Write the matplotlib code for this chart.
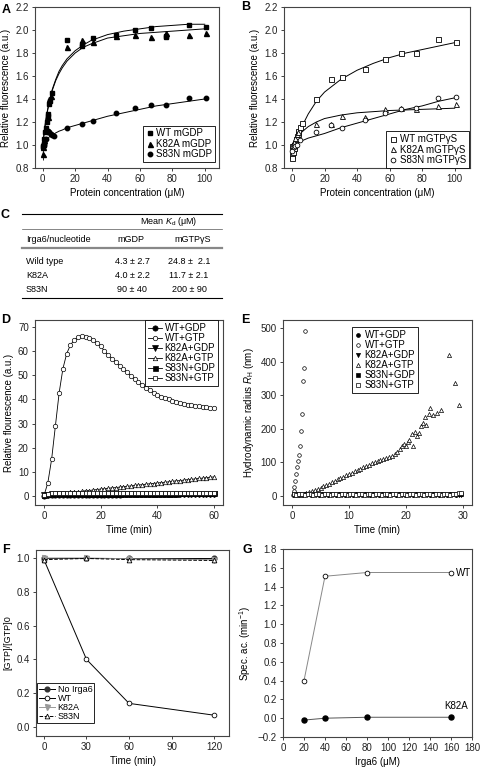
#!/usr/bin/env python3
"""Irga6 nucleotide binding / assembly / hydrolysis figure (panels A-G)."""

import matplotlib
matplotlib.use("Agg")
import matplotlib.pyplot as plt
import numpy as np

plt.rcParams["font.family"] = ["Liberation Sans", "DejaVu Sans"]
plt.rcParams["font.size"] = 7
plt.rcParams["mathtext.fontset"] = "custom"
plt.rcParams["mathtext.rm"] = "Liberation Sans"
plt.rcParams["mathtext.it"] = "Liberation Sans:italic"
plt.rcParams["mathtext.bf"] = "Liberation Sans:bold"

W, H = 483, 767
FS = 7

# ---- A: mGDP binding ----
a_wt_x = [0, 0.3, 0.6, 1, 1.5, 2, 2.5, 3, 3.5, 4, 4.5, 5.5, 15, 24, 24, 31, 45, 57, 67, 76, 76, 90, 101]
a_wt_y = [0.99, 0.98, 1.0, 1.05, 1.11, 1.15, 1.2, 1.25, 1.27, 1.36, 1.38, 1.45, 1.91, 1.88, 1.86,
          1.93, 1.96, 2.00, 2.02, 1.95, 1.94, 2.04, 2.03]
a_k82a_x = [0, 0.3, 1, 2, 3, 4, 5, 15, 24, 31, 45, 57, 67, 76, 90, 101]
a_k82a_y = [0.98, 0.92, 1.04, 1.14, 1.24, 1.40, 1.43, 1.85, 1.91, 1.90, 1.95, 1.96, 1.94, 1.97, 1.96, 1.97]
a_k82a_err = [0, 0.05, 0, 0, 0, 0, 0, 0, 0, 0, 0, 0, 0, 0, 0, 0]
a_s83n_x = [0.5, 1, 2, 3, 3.5, 4, 5, 6, 7, 15, 24, 31, 45, 57, 67, 76, 90, 101]
a_s83n_y = [1.0, 1.02, 1.05, 1.11, 1.12, 1.11, 1.10, 1.09, 1.08, 1.15, 1.18, 1.21, 1.28, 1.32, 1.35, 1.35,
            1.41, 1.41]
a_fit_x = [0, 1, 2, 3, 4, 5, 6, 8, 10, 12, 15, 20, 25, 30, 40, 50, 60, 70, 80, 90, 100]
a_fit_wt = [1.0, 1.13, 1.23, 1.31, 1.38, 1.44, 1.49, 1.57, 1.64, 1.69, 1.75, 1.82, 1.87, 1.91, 1.96,
            1.99, 2.01, 2.03, 2.04, 2.05, 2.05]
a_fit_k82a = [1.0, 1.12, 1.22, 1.30, 1.37, 1.43, 1.48, 1.56, 1.62, 1.67, 1.73, 1.80, 1.85, 1.88, 1.93,
              1.95, 1.97, 1.98, 1.99, 2.00, 2.01]
a_fit_s83n = [1.0, 1.02, 1.04, 1.055, 1.07, 1.08, 1.09, 1.105, 1.12, 1.13, 1.15, 1.17, 1.19, 1.21, 1.25,
              1.28, 1.31, 1.34, 1.36, 1.38, 1.40]

# ---- B: mGTPgS binding ----
b_wt_x = [0, 0, 0.3, 0.6, 1, 1.5, 2, 2.5, 3, 3.5, 4, 5, 6, 15, 24, 31, 45, 57, 67, 76, 90, 101]
b_wt_y = [0.99, 0.91, 0.89, 0.94, 0.97, 1.0, 1.02, 1.05, 1.08, 1.10, 1.12, 1.16, 1.19, 1.40, 1.57, 1.59,
          1.66, 1.75, 1.80, 1.80, 1.92, 1.90]
b_k82a_x = [0, 1, 2, 3, 4, 15, 24, 31, 45, 57, 67, 76, 90, 101]
b_k82a_y = [1.0, 1.03, 1.06, 1.10, 1.11, 1.18, 1.18, 1.25, 1.24, 1.31, 1.32, 1.31, 1.34, 1.36]
b_s83n_x = [0, 1, 2, 3, 5, 15, 24, 31, 45, 57, 67, 76, 90, 101]
b_s83n_y = [0.95, 0.98, 0.99, 1.0, 1.04, 1.11, 1.17, 1.15, 1.22, 1.28, 1.31, 1.32, 1.41, 1.42]
b_fit_x = [0, 2, 5, 10, 15, 20, 30, 40, 50, 60, 70, 80, 90, 100]
b_fit_wt = [1.0, 1.05, 1.13, 1.27, 1.38, 1.46, 1.57, 1.65, 1.71, 1.76, 1.80, 1.83, 1.86, 1.89]
b_fit_k82a = [1.0, 1.05, 1.10, 1.16, 1.20, 1.23, 1.26, 1.28, 1.29, 1.30, 1.305, 1.31, 1.315, 1.32]
b_fit_s83n = [1.0, 1.015, 1.03, 1.06, 1.08, 1.10, 1.15, 1.19, 1.23, 1.27, 1.31, 1.34, 1.38, 1.41]

# ---- C: Kd table ----
c_rows = ["Wild type", "K82A", "S83N"]
c_mgdp = ["4.3 \u00b1 2.7", "4.0 \u00b1 2.2", "90 \u00b1 40"]
c_mgtp = ["24.8 \u00b1  2.1", "11.7 \u00b1 2.1", "200 \u00b1 90"]

# ---- D: fluorescence time course ----
d_time = np.linspace(0, 60, 46)
d_wt_gtp = [0.3, 5.5, 15.2, 29, 42.8, 52.8, 59, 62.6, 64.6, 65.7,
            66.1, 66.0, 65.4, 64.5, 63.3, 62.0, 60.0, 58.4, 56.9, 55.5,
            54.0, 52.6, 51.2, 49.8, 48.5, 47.2, 46.0, 44.9, 43.8, 42.8,
            41.9, 41.2, 40.6, 40.0, 39.5, 39.0, 38.6, 38.2, 37.9, 37.6,
            37.3, 37.1, 36.9, 36.7, 36.5, 36.3]
d_k82a_gtp = [0.3, 0.5, 0.6, 0.8, 1.0, 1.2, 1.3, 1.5, 1.7, 1.8,
              2.0, 2.2, 2.3, 2.5, 2.7, 2.9, 3.0, 3.2, 3.4, 3.5,
              3.7, 3.9, 4.0, 4.2, 4.4, 4.6, 4.7, 4.9, 5.1, 5.2,
              5.4, 5.6, 5.7, 5.9, 6.1, 6.3, 6.4, 6.6, 6.8, 6.9,
              7.1, 7.3, 7.4, 7.6, 7.8, 7.9]
d_wt_gdp = [0.2, 0.3, 0.3, 0.4, 0.4, 0.4, 0.5, 0.5, 0.5, 0.5,
            0.5, 0.5, 0.6, 0.6, 0.6, 0.6, 0.6, 0.6, 0.6, 0.6,
            0.6, 0.7, 0.7, 0.7, 0.7, 0.7, 0.7, 0.7, 0.7, 0.7,
            0.7, 0.7, 0.7, 0.8, 0.8, 0.8, 0.8, 0.8, 0.8, 0.8,
            0.8, 0.8, 0.8, 0.8, 0.8, 0.8]
d_k82a_gdp = [0.4, 0.6, 0.7, 0.8, 0.9, 0.9, 0.9, 0.9, 0.9, 0.9,
              0.9, 0.9, 0.9, 0.9, 0.9, 0.9, 0.9, 0.9, 0.9, 0.9,
              0.9, 0.9, 0.9, 0.9, 0.9, 0.9, 1.0, 1.0, 1.0, 1.0,
              1.0, 1.0, 1.0, 1.0, 1.0, 1.0, 1.0, 1.0, 1.0, 1.0,
              1.0, 1.0, 1.0, 1.0, 1.0, 1.0]
d_s83n_gdp = [0.5, 0.8, 1.0, 1.1, 1.2, 1.2, 1.2, 1.1, 1.1, 1.1,
              1.1, 1.0, 1.0, 1.0, 1.0, 1.0, 1.0, 1.0, 1.0, 1.0,
              1.0, 1.0, 1.0, 1.0, 1.0, 1.0, 1.0, 1.0, 1.0, 1.0,
              1.0, 1.0, 1.0, 1.0, 1.0, 1.0, 1.1, 1.1, 1.1, 1.1,
              1.1, 1.1, 1.1, 1.1, 1.1, 1.1]
d_s83n_gtp = [0.6, 0.9, 1.1, 1.2, 1.3, 1.3, 1.2, 1.2, 1.1, 1.1,
              1.1, 1.1, 1.1, 1.1, 1.1, 1.1, 1.1, 1.1, 1.1, 1.1,
              1.1, 1.1, 1.1, 1.1, 1.1, 1.1, 1.1, 1.1, 1.1, 1.1,
              1.1, 1.1, 1.1, 1.1, 1.1, 1.1, 1.2, 1.2, 1.2, 1.2,
              1.2, 1.2, 1.2, 1.2, 1.2, 1.2]

# ---- E: DLS hydrodynamic radius ----
e_wt_gtp_t = [0.2, 0.3, 0.4, 0.55, 0.7, 0.85, 1.0, 1.15, 1.3, 1.5, 1.7, 1.9, 2.1, 2.3]
e_wt_gtp = [3, 15, 28, 45, 65, 85, 103, 122, 150, 194, 244, 343, 380, 492]
e_k82a_gtp_t = [0.5, 1.0, 1.5, 2.0, 2.5, 3.0, 3.5, 4.0, 4.5, 5.0, 5.5, 6.0, 6.5, 7.0, 7.5, 8.0, 8.5,
                9.0, 9.5, 10.0, 10.5, 11.0, 11.5, 12.0, 12.5, 13.0, 13.5, 14.0, 14.5, 15.0, 15.5,
                16.0, 16.5, 17.0, 17.5, 18.0, 18.5, 19.0, 19.3, 19.6, 20.0, 20.3, 20.6, 21.0, 21.3,
                21.6, 22.0, 22.3, 22.6, 23.0, 23.3, 23.6, 24.0, 24.3, 24.7, 25.4, 26.1, 27.5, 28.6, 29.4]
e_k82a_gtp = [2, 3, 4, 6, 8, 11, 14, 18, 21, 25, 29, 33, 37, 41, 45, 49, 53, 57, 61, 65,
              69, 73, 77, 81, 85, 89, 93, 97, 100, 104, 107, 110, 113, 116, 118, 125, 132, 140,
              148, 155, 150, 162, 167, 185, 148, 190, 178, 187, 207, 216, 236, 211, 245, 261,
              241, 247, 256, 419, 337, 271]
e_time = np.arange(0.25, 30, 0.5)
e_wt_gdp = [4, 5, 5, 4, 5, 6, 4, 5, 5, 4, 5, 5, 4, 6, 5, 4, 5, 5, 4, 5,
            5, 4, 5, 6, 4, 5, 5, 4, 5, 5, 4, 5, 5, 4, 6, 5, 4, 5, 5, 4,
            5, 5, 4, 5, 6, 4, 5, 5, 4, 5, 5, 4, 5, 5, 4, 6, 5, 4, 5, 5]
e_k82a_gdp = [3, 4, 3, 4, 3, 5, 3, 4, 3, 4, 3, 4, 3, 4, 5, 3, 4, 3, 4, 3,
              4, 3, 4, 3, 5, 3, 4, 3, 4, 3, 4, 3, 4, 3, 4, 5, 3, 4, 3, 4,
              3, 4, 3, 4, 3, 4, 5, 3, 4, 3, 4, 3, 4, 3, 4, 3, 5, 4, 3, 4]
e_s83n_gdp = [6, 5, 6, 7, 5, 6, 5, 6, 7, 5, 6, 5, 6, 5, 7, 6, 5, 6, 5, 6,
              7, 5, 6, 5, 6, 5, 7, 6, 5, 6, 5, 6, 7, 5, 6, 5, 6, 5, 7, 6,
              5, 6, 5, 6, 7, 5, 6, 5, 6, 5, 7, 6, 5, 6, 5, 6, 7, 5, 6, 6]
e_s83n_gtp = [5, 4, 6, 5, 4, 6, 5, 4, 6, 5, 4, 6, 5, 4, 6, 5, 4, 6, 5, 4,
              6, 5, 4, 6, 5, 4, 6, 5, 4, 6, 5, 4, 6, 5, 4, 6, 5, 4, 6, 5,
              4, 6, 5, 4, 6, 5, 4, 6, 5, 4, 6, 5, 4, 6, 5, 4, 6, 5, 9, 8]

# ---- F: GTP hydrolysis ----
f_time = [0, 30, 60, 120]
f_no_irga6 = [1.0, 1.0, 1.0, 1.0]
f_wt = [0.99, 0.40, 0.14, 0.07]
f_k82a = [1.0, 1.0, 0.995, 0.99]
f_s83n = [0.99, 0.997, 0.99, 0.985]

# ---- G: specific activity ----
g_conc = [20, 40, 80, 160]
g_wt = [0.40, 1.51, 1.55, 1.55]
g_k82a = [-0.02, 0.0, 0.01, 0.01]

UM = "(\u03bcM)"


def add_ax(fig, x0, y0, x1, y1):
    return fig.add_axes([x0 / W, 1 - y1 / H, (x1 - x0) / W, (y1 - y0) / H])


def style(ax):
    for sp in ax.spines.values():
        sp.set_color("#444444")
        sp.set_linewidth(0.8)
    ax.tick_params(direction="out", length=2.5, width=0.6, labelsize=FS, pad=2,
                   colors="#222222", top=False, right=False)


def legend(ax, fs=FS, borderpad=0.3, **kw):
    leg = ax.legend(fontsize=fs, fancybox=False, framealpha=1, edgecolor="black",
                    borderpad=borderpad, handletextpad=0.3, borderaxespad=0, numpoints=1, **kw)
    leg.get_frame().set_linewidth(0.6)
    return leg


def main():
    fig = plt.figure(figsize=(W / 100, H / 100), dpi=100)

    # A
    ax = add_ax(fig, 35, 7, 219, 168)
    style(ax)
    for fy in (a_fit_wt, a_fit_k82a, a_fit_s83n):
        ax.plot(a_fit_x, fy, color="black", lw=0.7)
    ax.errorbar(a_k82a_x, a_k82a_y, yerr=a_k82a_err, fmt="none", ecolor="black", elinewidth=0.6)
    ax.plot(a_wt_x, a_wt_y, "s", color="black", ms=3.4, ls="none", label="WT mGDP")
    ax.plot(a_k82a_x, a_k82a_y, "^", color="black", ms=3.6, ls="none", label="K82A mGDP")
    ax.plot(a_s83n_x, a_s83n_y, "o", color="black", ms=3.2, ls="none", label="S83N mGDP")
    ax.set_xlim(-4.8, 108.8)
    ax.set_ylim(0.8, 2.2)
    ax.set_xticks(range(0, 101, 20))
    ax.set_yticks(np.arange(0.8, 2.21, 0.2))
    ax.yaxis.set_major_formatter(matplotlib.ticker.FormatStrFormatter("%.1f"))
    ax.set_xlabel(f"Protein concentration {UM}", labelpad=3)
    ax.set_ylabel("Relative fluorescence (a.u.)", labelpad=3)
    legend(ax, loc="lower right", bbox_to_anchor=(0.98, 0.035), handlelength=0.8, labelspacing=0.05)

    # B
    ax = add_ax(fig, 284, 7, 470, 168)
    style(ax)
    for fy in (b_fit_wt, b_fit_k82a, b_fit_s83n):
        ax.plot(b_fit_x, fy, color="black", lw=0.7)
    mk = dict(mfc="white", mec="black", mew=0.6, ls="none")
    ax.plot(b_wt_x, b_wt_y, "s", ms=3.6, label="WT mGTP\u03b3S", **mk)
    ax.plot(b_k82a_x, b_k82a_y, "^", ms=3.6, label="K82A mGTP\u03b3S", **mk)
    ax.plot(b_s83n_x, b_s83n_y, "o", ms=3.4, label="S83N mGTP\u03b3S", **mk)
    ax.set_xlim(-4.9, 109.4)
    ax.set_ylim(0.8, 2.2)
    ax.set_xticks(range(0, 101, 20))
    ax.set_yticks(np.arange(0.8, 2.21, 0.2))
    ax.yaxis.set_major_formatter(matplotlib.ticker.FormatStrFormatter("%.1f"))
    ax.set_xlabel(f"Protein concentration {UM}", labelpad=3)
    ax.set_ylabel("Relative fluorescence (a.u.)", labelpad=3)
    legend(ax, loc="lower right", bbox_to_anchor=(0.995, 0.0), handlelength=0.8, labelspacing=0.05)

    # D
    ax = add_ax(fig, 35, 320, 223, 505)
    style(ax)
    ln = dict(color="black", lw=0.6, mec="black", mew=0.5)
    ax.plot(d_time, d_wt_gdp, "-o", mfc="black", ms=3.8, label="WT+GDP", **ln)
    ax.plot(d_time, d_wt_gtp, "-o", mfc="white", ms=3.2, label="WT+GTP", **ln)
    ax.plot(d_time, d_k82a_gdp, "-v", mfc="black", ms=3.8, label="K82A+GDP", **ln)
    ax.plot(d_time, d_k82a_gtp, "-^", mfc="white", ms=3.2, label="K82A+GTP", **ln)
    ax.plot(d_time, d_s83n_gdp, "-s", mfc="black", ms=3.6, label="S83N+GDP", **ln)
    ax.plot(d_time, d_s83n_gtp, "-s", mfc="white", ms=3.2, label="S83N+GTP", **ln)
    ax.set_xlim(-3.2, 63.2)
    ax.set_ylim(-3.7, 72.9)
    ax.set_xticks([0, 20, 40, 60])
    ax.set_yticks(range(0, 71, 10))
    ax.set_xlabel("Time (min)", labelpad=3)
    ax.set_ylabel("Relative flourescence (a.u.)", labelpad=3)
    legend(ax, loc="upper right", bbox_to_anchor=(0.975, 1.0), handlelength=1.4, labelspacing=0.0)

    # E
    ax = add_ax(fig, 283, 320, 472, 505)
    style(ax)
    sc = dict(color="black", ls="none", mec="black", mew=0.5)
    ax.plot(e_time, e_wt_gdp, "o", ms=2.8, mfc="black", label="WT+GDP", **sc)
    ax.plot(e_wt_gtp_t, e_wt_gtp, "o", ms=2.6, mfc="white", label="WT+GTP", **sc)
    ax.plot(e_time, e_k82a_gdp, "v", ms=3.0, mfc="black", label="K82A+GDP", **sc)
    ax.plot(e_k82a_gtp_t, e_k82a_gtp, "^", ms=3.0, mfc="white", label="K82A+GTP", **sc)
    ax.plot(e_time, e_s83n_gdp, "s", ms=2.8, mfc="black", label="S83N+GDP", **sc)
    ax.plot(e_time, e_s83n_gtp, "s", ms=2.6, mfc="white", label="S83N+GTP", **sc)
    ax.set_xlim(-1.6, 31.6)
    ax.set_ylim(-27, 524)
    ax.set_xticks([0, 10, 20, 30])
    ax.set_yticks(range(0, 501, 100))
    ax.set_xlabel("Time (min)", labelpad=3)
    ax.set_ylabel(r"Hydrodynamic radius $\mathit{R}_\mathregular{H}$ (nm)", labelpad=3)
    legend(ax, loc="upper center", bbox_to_anchor=(0.54, 0.96), handlelength=0.7, labelspacing=0.0)

    # F
    ax = add_ax(fig, 36, 550, 229, 736)
    style(ax)
    ax.plot(f_time, f_no_irga6, "-o", color="black", mfc="#333333", mec="#333333", ms=3.4, lw=0.7,
            label="No Irga6")
    ax.plot(f_time, f_wt, "-o", color="black", mfc="white", mec="black", mew=0.6, ms=3.4, lw=0.7,
            label="WT")
    ax.plot(f_time, f_k82a, "-v", color="#999999", mfc="#999999", mec="#999999", ms=3.6, lw=0.7,
            label="K82A")
    ax.plot(f_time, f_s83n, "--^", color="black", mfc="white", mec="black", mew=0.6, ms=3.4, lw=0.7,
            label="S83N")
    ax.set_xlim(-5.6, 130.5)
    ax.set_ylim(-0.053, 1.047)
    ax.set_xticks([0, 30, 60, 90, 120])
    ax.set_yticks(np.arange(0, 1.01, 0.2))
    ax.yaxis.set_major_formatter(matplotlib.ticker.FormatStrFormatter("%.1f"))
    ax.set_xlabel("Time (min)", labelpad=3)
    ax.set_ylabel("[GTP]/[GTP]0", labelpad=3, fontsize=6.5)
    legend(ax, fs=6.5, borderpad=0.2, loc="lower left", bbox_to_anchor=(0.005, 0.07),
           handlelength=1.8, labelspacing=0.0)

    # G
    ax = add_ax(fig, 283, 549, 472, 737)
    style(ax)
    ax.plot(g_conc, g_wt, "-o", color="#888888", mfc="white", mec="black", mew=0.6, ms=3.4, lw=0.7)
    ax.plot(g_conc, g_k82a, "-o", color="#555555", mfc="black", mec="black", ms=3.6, lw=0.7)
    ax.text(g_conc[-1] + 5, g_wt[-1], "WT", fontsize=FS, va="center", ha="left")
    ax.text(g_conc[-1] + 5, g_k82a[-1] + 0.12, "K82A", fontsize=FS, va="center", ha="center")
    ax.set_xlim(0, 180)
    ax.set_ylim(-0.2, 1.8)
    ax.set_xticks(range(0, 181, 20))
    ax.set_yticks(np.arange(-0.2, 1.81, 0.2))
    ax.yaxis.set_major_formatter(matplotlib.ticker.FuncFormatter(
        lambda v, p: f"{v:.1f}".replace("-", "\u2212") if abs(v) > 1e-9 else "0.0"))
    ax.set_xlabel(f"Irga6 {UM}", labelpad=3)
    ax.set_ylabel(r"Spec. ac. (min$^{\mathregular{-1}}$)", labelpad=3)

    # overlay: panel letters and table C (pixel coordinates)
    ov = fig.add_axes([0, 0, 1, 1])
    ov.set_xlim(0, W)
    ov.set_ylim(H, 0)
    ov.axis("off")
    for letter, x, y in [("A", 6, 10), ("B", 246, 7), ("C", 5, 215), ("D", 6, 320),
                         ("E", 245, 320), ("F", 6, 550), ("G", 247, 550)]:
        ov.text(x, y, letter, fontsize=9, fontweight="bold", ha="center", va="center")

    x_l, x_r = 22, 222
    ov.plot([x_l, x_r], [214, 214], color="black", lw=0.8)
    ov.plot([x_l, x_r], [229, 229], color="#555555", lw=0.5)
    ov.plot([x_l, x_r], [248, 248], color="#888888", lw=1.6)
    ov.plot([x_l, x_r], [298, 298], color="black", lw=0.8)
    tfs = 6.5
    ov.text(169, 222, r"Mean $\mathit{K}_\mathregular{d}$ " + UM, fontsize=tfs, ha="center", va="center")
    ov.text(26, 240, "Irga6/nucleotide", fontsize=tfs, ha="left", va="center")
    ov.text(131, 240, "mGDP", fontsize=tfs, ha="center", va="center")
    ov.text(193, 240, "mGTP\u03b3S", fontsize=tfs, ha="center", va="center")
    for i, (r, g1, g2) in enumerate(zip(c_rows, c_mgdp, c_mgtp)):
        y = 262 + i * 13.5
        ov.text(26, y, r, fontsize=tfs, ha="left", va="center")
        ov.text(132, y, g1, fontsize=tfs, ha="center", va="center")
        ov.text(189, y, g2, fontsize=tfs, ha="center", va="center")

    fig.savefig("out.png", dpi=100)
    plt.close(fig)


if __name__ == "__main__":
    main()
